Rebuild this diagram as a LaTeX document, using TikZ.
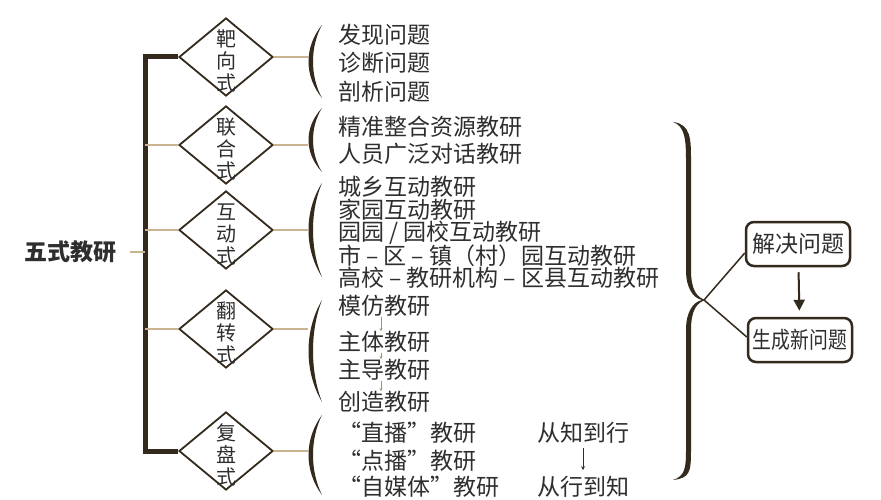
\documentclass[tikz,border=0pt]{standalone}
\usepackage{fontspec}
\setmainfont{Noto Sans CJK SC}
\usetikzlibrary{shapes.geometric,arrows.meta}
\definecolor{ink}{HTML}{33291C}
\definecolor{twigc}{HTML}{C9B48F}
\definecolor{txt}{HTML}{2E2E2E}
% left bracket "(" between rows #1 (top) and #2 (bottom)
\newcommand\paren[2]{\fill[ink] (322,#1) .. controls (304,{0.7*#1+0.3*#2}) and (304,{0.3*#1+0.7*#2}) .. (322,#2)
  .. controls (310,{0.3*#1+0.7*#2}) and (310,{0.7*#1+0.3*#2}) .. (322,#1) -- cycle;}
\begin{document}
\begin{tikzpicture}[x=1pt,y=-1pt,
    fdia/.style={draw=ink, line width=1.8pt, shape=diamond, minimum width=94pt, minimum height=78pt, inner sep=0pt},
    dtext/.style={align=center, text=txt, font=\fontsize{20}{22}\selectfont, inner sep=0pt},
    item/.style={anchor=west, text=txt, font=\fontsize{23}{23}\selectfont, inner sep=0pt},
    spine/.style={draw=ink, line width=5pt},
    twig/.style={draw=twigc, line width=1.2pt},
    flow/.style={draw=twigc!80!black, line width=0.8pt, -{Stealth[length=3pt,width=3pt]}},
    goal/.style={draw=ink, line width=2.5pt, rounded corners=8pt, minimum width=104pt, minimum height=44pt, inner sep=2pt, text=txt, font=\fontsize{23}{23}\selectfont}
]
\useasboundingbox (0,0) rectangle (881,500);

% root and the five forms
\node [text=txt, font=\bfseries\fontsize{23}{23}\selectfont] (root) at (70,252) {五式教研};
\node [fdia] (d1) at (226,57) {};
\node [fdia] (d2) at (226,145) {};
\node [fdia] (d3) at (226,230) {};
\node [fdia] (d4) at (226,329) {};
\node [fdia] (d5) at (226,451) {};
\node [dtext] (t1) at ([yshift=-4]d1) {靶\\向\\式};
\node [dtext] (t2) at ([yshift=-4]d2) {联\\合\\式};
\node [dtext] (t3) at ([yshift=-4]d3) {互\\动\\式};
\node [dtext] (t4) at ([yshift=-4]d4) {翻\\转\\式};
\node [dtext] (t5) at ([yshift=-4]d5) {复\\盘\\式};

\draw [spine] (d1.west) -- ++(-33,0) coordinate (sp) |- (d5.west);
\coordinate (hub) at (root -| sp);
\draw [twig, shorten <=10pt] (root.east) -- (hub);
\foreach \d in {d2,d3,d4} \draw [twig] (\d.west) -- (\d.west -| sp);
\coordinate (brx) at (308,0);
\foreach \d in {d1,d2,d3,d4,d5} \draw [twig] (\d.east) -- (\d.east -| brx);

% brackets
\paren{25}{98}
\paren{108}{172}
\paren{183}{277}
\paren{300}{402}
\paren{415}{495}

% items
\node [item] (g11) at (338,35) {发现问题};
\node [item] (g12) at (338,63) {诊断问题};
\node [item] (g13) at (338,92) {剖析问题};
\node [item] (g21) at (338,127) {精准整合资源教研};
\node [item] (g22) at (338,154) {人员广泛对话教研};
\node [item] (g31) at (338,187) {城乡互动教研};
\node [item] (g32) at (338,210) {家园互动教研};
\node [item] (g33) at (338,233) {园园 / 园校互动教研};
\node [item] (g34) at (338,256) {市 – 区 – 镇（村）园互动教研};
\node [item] (g35) at (338,278) {高校 – 教研机构 – 区县互动教研};
\node [item] (g41) at (338,306) {模仿教研};
\node [item] (g42) at (338,342) {主体教研};
\node [item] (g43) at (338,370) {主导教研};
\node [item] (g44) at (338,402) {创造教研};
\node [item] (g51) at (338,433) {“直播”教研};
\node [item] (g52) at (338,461) {“点播”教研};
\node [item] (g53) at (338,487) {“自媒体”教研};
\coordinate (ax) at (381,0);
\draw [flow] (g41.south -| ax) -- (g42.north -| ax);
\draw [flow] (g42.south -| ax) -- (g43.north -| ax);
\draw [flow] (g43.south -| ax) -- (g44.north -| ax);

\node [text=txt, font=\fontsize{23}{23}\selectfont, inner sep=0pt] (zx) at (583,433) {从知到行};
\node [text=txt, font=\fontsize{23}{23}\selectfont, inner sep=0pt] (xz) at (583,487) {从行到知};
\draw [draw=txt, line width=0.8pt, -{Stealth[length=4pt,width=4pt]}, shorten <=4pt, shorten >=6pt] (zx) -- (xz);

% big brace
\fill [ink] (673,122) .. controls (691,124) and (691,140) .. (691,160) -- (691,270)
    .. controls (691,290) and (697,298) .. (706,300) .. controls (697,302) and (691,310) .. (691,330)
    -- (691,450) .. controls (691,472) and (690,478) .. (673,480)
    .. controls (685,476) and (686,468) .. (686,450) -- (686,330)
    .. controls (686,312) and (693,302) .. (702,300) .. controls (693,298) and (686,288) .. (686,270)
    -- (686,160) .. controls (686,140) and (685,126) .. (673,122) -- cycle;
\coordinate (tip) at (704,300);

% outcomes
\node [goal] (jj) at (798,244) {解决问题};
\node [goal] (sc) at (800,340) {\scalebox{0.82}[1]{生成新问题}};
\draw [draw=ink, line width=1.5pt] (tip) -- ([yshift=-9]jj.west);
\draw [draw=ink, line width=1.5pt] (tip) -- ([yshift=3]sc.west);
\draw [draw=ink, line width=2pt, -{Triangle[length=11pt,width=11pt]}, shorten <=5pt, shorten >=6pt] (jj) -- (sc);
\end{tikzpicture}
\end{document}
